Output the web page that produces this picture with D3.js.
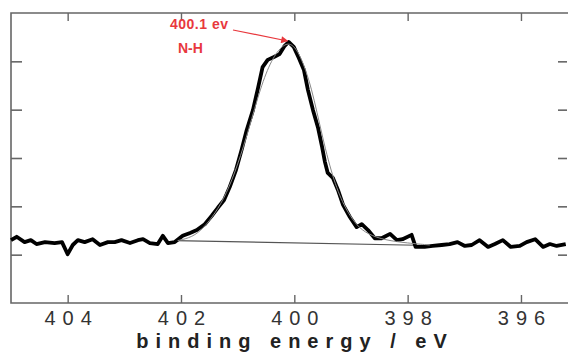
<!DOCTYPE html>
<html>
<head>
<meta charset="utf-8">
<script src="https://cdn.jsdelivr.net/npm/d3@7"></script>
<style>
  body { margin: 0; background: #fff; }
  svg { display: block; font-family: "Liberation Sans", Arial, sans-serif; }
</style>
</head>
<body>
<svg id="chart" width="568" height="352"></svg>
<script>
// measured spectrum (binding energy in eV, intensity in arbitrary units)
const energy = [405.00, 404.90, 404.76, 404.65, 404.55, 404.40, 404.23, 404.10, 404.00, 403.91,
  403.82, 403.70, 403.56, 403.43, 403.29, 403.17, 403.05, 402.90, 402.76, 402.67,
  402.55, 402.41, 402.32, 402.23, 402.11, 401.97, 401.84, 401.72, 401.58, 401.46,
  401.35, 401.24, 401.14, 401.03, 400.93, 400.84, 400.73, 400.64, 400.56, 400.47,
  400.36, 400.26, 400.17, 400.10, 400.01, 399.92, 399.83, 399.76, 399.67, 399.58,
  399.51, 399.46, 399.41, 399.32, 399.23, 399.14, 399.02, 398.90, 398.81, 398.70,
  398.58, 398.46, 398.31, 398.19, 398.09, 397.93, 397.86, 397.70, 397.56, 397.40,
  397.26, 397.12, 396.99, 396.87, 396.73, 396.58, 396.46, 396.32, 396.18, 396.02,
  395.90, 395.75, 395.61, 395.49, 395.37, 395.21];
const intensity = [1.30, 1.37, 1.26, 1.30, 1.22, 1.26, 1.24, 1.26, 1.01, 1.20,
  1.30, 1.26, 1.32, 1.20, 1.26, 1.26, 1.30, 1.24, 1.30, 1.32,
  1.24, 1.22, 1.39, 1.24, 1.26, 1.39, 1.45, 1.51, 1.63, 1.80,
  1.97, 2.13, 2.40, 2.75, 3.17, 3.58, 3.99, 4.45, 4.88, 5.03,
  5.09, 5.15, 5.32, 5.40, 5.30, 5.07, 4.82, 4.41, 3.99, 3.62,
  3.23, 2.92, 2.69, 2.59, 2.34, 2.03, 1.78, 1.57, 1.63, 1.51,
  1.34, 1.34, 1.43, 1.30, 1.32, 1.41, 1.16, 1.16, 1.18, 1.20,
  1.22, 1.26, 1.18, 1.20, 1.30, 1.16, 1.22, 1.30, 1.16, 1.18,
  1.26, 1.32, 1.16, 1.22, 1.18, 1.22];

// fitted N-H component (thin grey)
const fitEnergy = [402.06, 401.8, 401.6, 401.4, 401.2, 401.0, 400.8, 400.6, 400.4, 400.2,
  400.05, 399.9, 399.7, 399.5, 399.3, 399.1, 398.9, 398.7, 398.4, 398.0, 397.61];
const fitIntensity = [1.29, 1.36, 1.55, 1.85, 2.25, 2.85, 3.6, 4.45, 5.05, 5.35,
  5.38, 5.15, 4.5, 3.4, 2.5, 1.95, 1.6, 1.42, 1.3, 1.24, 1.20];

// linear background
const bgEnergy = [402.1, 397.6];
const bgIntensity = [1.29, 1.19];

const xTicks = [404, 402, 400, 398, 396];
const yTicks = [1, 2, 3, 4, 5];

const svg = d3.select("#chart");
const box = { left: 11, right: 568, top: 13, bottom: 303 };

const x = d3.scaleLinear().domain([405.0, 395.17]).range([box.left, box.right]);
const y = d3.scaleLinear().domain([0, 6]).range([box.bottom, box.top]);

const axisColor = "#666";

// frame
svg.append("path")
  .attr("d", `M${box.right},${box.top}H${box.left}V${box.bottom}H${box.right}`)
  .attr("fill", "none")
  .attr("stroke", axisColor)
  .attr("stroke-width", 1.6);

// bottom axis
const xAxis = svg.append("g")
  .attr("transform", "translate(0," + box.bottom + ")")
  .call(d3.axisBottom(x).tickValues(xTicks).tickSizeInner(-8).tickSizeOuter(0).tickPadding(8));
xAxis.select(".domain").remove();
xAxis.selectAll(".tick line").attr("stroke", axisColor).attr("stroke-width", 1.4);
xAxis.selectAll(".tick text")
  .attr("fill", "#333")
  .attr("font-size", 20)
  .attr("letter-spacing", "7px")
  .attr("dx", "3.5px");

// top ticks
svg.append("g")
  .attr("transform", "translate(0," + box.top + ")")
  .call(d3.axisTop(x).tickValues(xTicks).tickSizeInner(-8).tickSizeOuter(0).tickFormat(""))
  .call(g => g.select(".domain").remove())
  .selectAll(".tick line").attr("stroke", axisColor).attr("stroke-width", 1.4);

// left ticks
svg.append("g")
  .attr("transform", "translate(" + box.left + ",0)")
  .call(d3.axisLeft(y).tickValues(yTicks).tickSizeInner(-11).tickSizeOuter(0).tickFormat(""))
  .call(g => g.select(".domain").remove())
  .selectAll(".tick line").attr("stroke", axisColor).attr("stroke-width", 1.6);

// right ticks
svg.append("g")
  .attr("transform", "translate(" + (box.right - 1) + ",0)")
  .call(d3.axisRight(y).tickValues(yTicks).tickSizeInner(-9).tickSizeOuter(0).tickFormat(""))
  .call(g => g.select(".domain").remove())
  .selectAll(".tick line").attr("stroke", axisColor).attr("stroke-width", 1.6);

// axis title
svg.append("text")
  .attr("x", 295)
  .attr("y", 348)
  .attr("text-anchor", "middle")
  .attr("font-size", 20)
  .attr("font-weight", "bold")
  .attr("letter-spacing", "7px")
  .attr("fill", "#222")
  .text("binding energy / eV");

const line = d3.line().x(d => x(d[0])).y(d => y(d[1]));

// background
svg.append("path")
  .datum(d3.zip(bgEnergy, bgIntensity))
  .attr("d", line)
  .attr("fill", "none")
  .attr("stroke", "#555")
  .attr("stroke-width", 1.2);

// measured curve
svg.append("path")
  .datum(d3.zip(energy, intensity))
  .attr("d", line)
  .attr("fill", "none")
  .attr("stroke", "#000")
  .attr("stroke-width", 3.8)
  .attr("stroke-linejoin", "round");

// fit
svg.append("path")
  .datum(d3.zip(fitEnergy, fitIntensity))
  .attr("d", line.curve(d3.curveBasis))
  .attr("fill", "none")
  .attr("stroke", "#888")
  .attr("stroke-width", 1);

// annotation
const red = "#e8383d";
svg.append("defs").append("marker")
  .attr("id", "arrow")
  .attr("viewBox", "0 0 10 10")
  .attr("refX", 9).attr("refY", 5)
  .attr("markerWidth", 9).attr("markerHeight", 7)
  .attr("markerUnits", "userSpaceOnUse")
  .attr("orient", "auto")
  .append("path").attr("d", "M0,0L10,5L0,10Z").attr("fill", red);

svg.append("text")
  .attr("x", 170).attr("y", 29)
  .attr("font-size", 14).attr("font-weight", "bold")
  .attr("letter-spacing", "0.5px")
  .attr("fill", red)
  .text("400.1 ev");
svg.append("text")
  .attr("x", 178).attr("y", 53)
  .attr("font-size", 14).attr("font-weight", "bold")
  .attr("fill", red)
  .text("N-H");

svg.append("line")
  .attr("x1", 233).attr("y1", 30)
  .attr("x2", x(400.12)).attr("y2", y(5.38) - 2)
  .attr("stroke", red)
  .attr("stroke-width", 1.2)
  .attr("marker-end", "url(#arrow)");
</script>
</body>
</html>
